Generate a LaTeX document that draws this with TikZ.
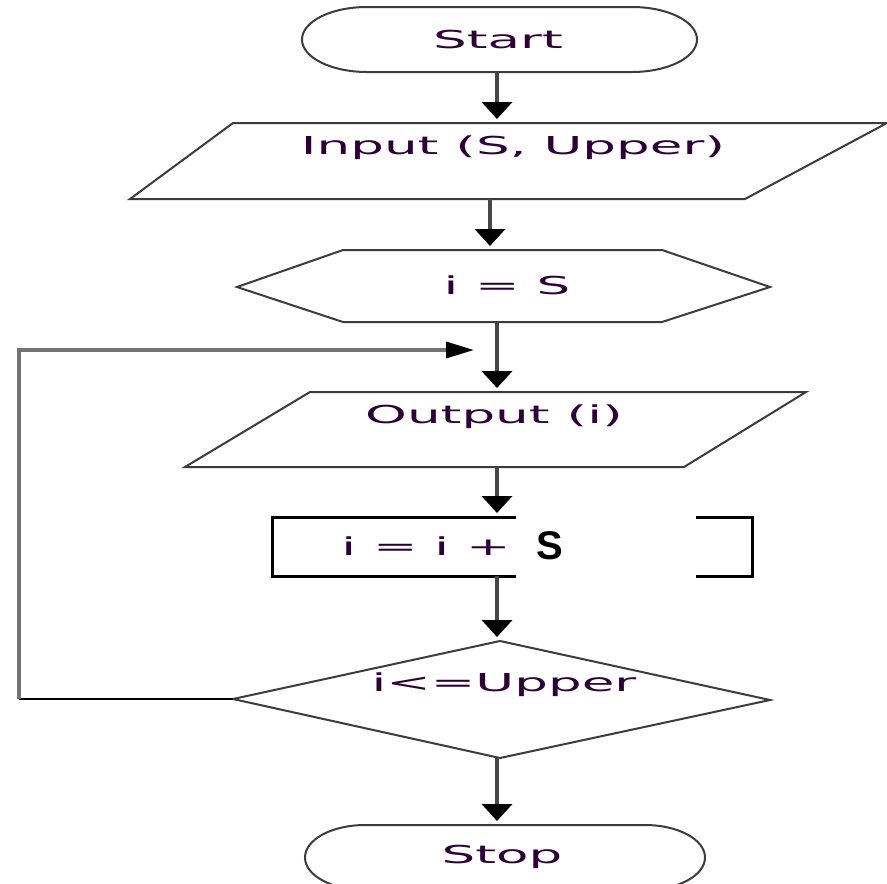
\documentclass[tikz,border=0pt]{standalone}
\usepackage{fontspec}
\usetikzlibrary{arrows.meta}
\newfontfamily\widefont[FakeStretch=2.15]{DejaVu Sans}
\newfontfamily\boldsans{Liberation Sans}
\definecolor{txtcol}{RGB}{45,0,55}
\definecolor{edgecol}{RGB}{60,60,60}
\tikzset{
  lbl/.style={inner sep=0pt, text=txtcol, font=\widefont\fontsize{24.7}{28}\selectfont},
  outline/.style={draw=edgecol, line width=2pt, fill=white},
  flow/.style={line width=4pt, draw=black!72, -{Triangle[width=30pt,length=17pt,color=black]}, shorten >=4pt},
  loopline/.style={line width=3.5pt, draw=black!55},
}
\begin{document}
\begin{tikzpicture}[x=1pt,y=1pt]
\useasboundingbox (0,-884) rectangle (887,0);
\clip (0,-884) rectangle (887,0);
\fill[white] (0,-884) rectangle (887,0);

% shapes
\draw[outline] (367,-7) -- (632,-7) arc[start angle=90,end angle=-90,x radius=65,y radius=32.5]
  -- (367,-72) arc[start angle=270,end angle=90,x radius=65,y radius=32.5] -- cycle;
\draw[outline] (233,-123) -- (887,-123) -- (745,-199) -- (130,-199) -- cycle;
\draw[outline] (237,-287) -- (343,-250) -- (662,-250) -- (770,-287) -- (662,-322) -- (343,-322) -- cycle;
\draw[outline] (310,-392) -- (806,-392) -- (684,-467) -- (185,-467) -- cycle;
\draw[draw=black, line width=3pt, fill=white] (272,-517) rectangle (752,-576);
\draw[outline] (500,-641) -- (770,-700) -- (500,-758) -- (233,-699) -- cycle;
\draw[outline] (365,-825) -- (645,-825) arc[start angle=90,end angle=-90,x radius=60,y radius=32.5]
  -- (365,-890) arc[start angle=270,end angle=90,x radius=60,y radius=32.5] -- cycle;

% texts
\node[lbl] (start) at (498,-40) {Start};
\node[lbl] (input) at (513,-148) {Input (S, Upper)};
\node[lbl] (init) at (507,-285) {i = S};
\node[lbl] (output) at (494,-417) {Output (i)};
\node[lbl] (incr) at (426,-546) {i = i +};
\node[lbl] (test) at (504,-685) {i<=Upper};
\node[lbl] (stop) at (502,-857) {Stop};

% connector end points
\coordinate (start-s) at (497,-72);
\coordinate (input-n) at (497,-123);
\coordinate (input-s) at (490,-199);
\coordinate (init-n) at (490,-250);
\coordinate (init-s) at (497,-322);
\coordinate (output-n) at (497,-392);
\coordinate (output-s) at (497,-467);
\coordinate (incr-n) at (497,-517);
\coordinate (incr-s) at (497,-576);
\coordinate (test-n) at (497,-641);
\coordinate (test-s) at (497,-758);
\coordinate (stop-n) at (497,-825);
\coordinate (test-w) at (233,-699);
\coordinate (loop-a) at (19,-699);
\coordinate (loop-b) at (19,-350);
\coordinate (loop-c) at (474,-350);

% connectors
\draw[flow] (start-s) -- (input-n);
\draw[flow] (input-s) -- (init-n);
\draw[flow] (init-s) -- (output-n);
\draw[flow] (output-s) -- (incr-n);
\draw[flow] (incr-s) -- (test-n);
\draw[flow] (test-s) -- (stop-n);
\draw[line width=2pt, black] (test-w) -- (loop-a);
\draw[loopline, -{Triangle[width=16pt,length=28pt,color=black]}] (loop-a) -- (loop-b) -- (loop-c);

% white patch with bold S
\fill[white] (516,-505) rectangle (696,-582);
\node[inner sep=0pt, font=\boldsans\bfseries\fontsize{40}{44}\selectfont] (s) at (550,-546) {S};
\end{tikzpicture}
\end{document}
